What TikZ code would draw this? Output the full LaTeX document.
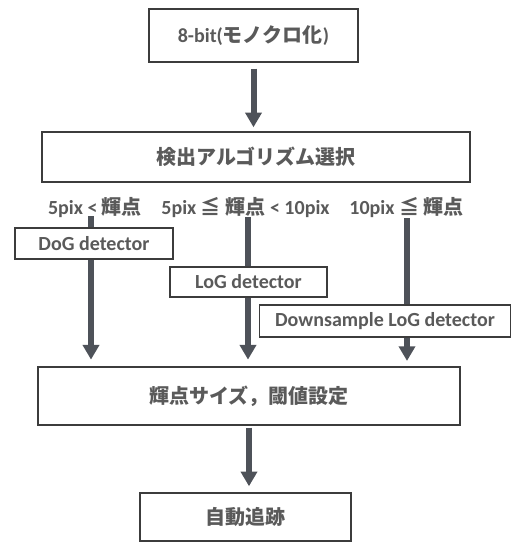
\documentclass[tikz,border=0pt]{standalone}
\usepackage{fontspec}
\setmainfont{Carlito}
\newfontfamily\jp{Noto Sans CJK JP Bold}
\usetikzlibrary{arrows.meta}
\definecolor{txt}{HTML}{5A5A5A}
\definecolor{edge}{HTML}{3C3C3C}
\definecolor{arr}{HTML}{4E5259}
\newcommand{\jt}[1]{{\jp #1}}
\tikzset{
  box/.style={draw=edge, line width=1.1pt, fill=white, inner sep=0pt, text=txt, font=\bfseries\fontsize{15}{18}\selectfont},
  lbl/.style={inner sep=0pt, text=txt, font=\bfseries\fontsize{15}{18}\selectfont},
  flow/.style={draw=arr, line width=4.5pt, -{Triangle[width=12pt,length=11pt]}},
  seg/.style={draw=arr, line width=4.5pt}
}
\begin{document}
\begin{tikzpicture}[x=0.75pt,y=-0.75pt]
\useasboundingbox (0,0) rectangle (512,543);
% boxes
\node[box, minimum width=209*0.75pt, minimum height=53*0.75pt] (top) at (253.5,35.5) {8-bit(\jt{モノクロ化})};
\node[box, minimum width=428*0.75pt, minimum height=50*0.75pt] (sel) at (256,157) {\jt{検出アルゴリズム選択}};
\node[box, minimum width=158*0.75pt, minimum height=31*0.75pt] (dog) at (94,243.5) {DoG detector};
\node[box, minimum width=157*0.75pt, minimum height=30*0.75pt] (log) at (248.5,282) {LoG detector};
\node[box, minimum width=251*0.75pt, minimum height=32*0.75pt] (dlog) at (385,321) {Downsample LoG detector};
\node[box, minimum width=422*0.75pt, minimum height=58*0.75pt] (set) at (249,396) {\jt{輝点サイズ，閾値設定}};
\node[box, minimum width=211*0.75pt, minimum height=48*0.75pt] (trk) at (245.5,517) {\jt{自動追跡}};
% labels
\node[lbl] (l1) at (95,208) {5pix < \jt{輝点}};
\node[lbl] (l2) at (245.5,208) {5pix \jt{≦ 輝点} < 10pix};
\node[lbl] (l3) at (406.5,208) {10pix \jt{≦ 輝点}};
% column tops
\coordinate (c1t) at (91,216);
\coordinate (c2t) at (248,217);
\coordinate (c3t) at (407,218);
% arrows
\draw[flow, shorten <=4.5pt, shorten >=3pt] (top.south) -- (top.south |- sel.north);
\draw[seg] (c1t) -- (c1t |- dog.north);
\draw[flow, shorten >=5pt] (c1t |- dog.south) -- (c1t |- set.north);
\draw[seg] (c2t) -- (c2t |- log.north);
\draw[flow, shorten >=5pt] (c2t |- log.south) -- (c2t |- set.north);
\draw[seg] (c3t) -- (c3t |- dlog.north);
\draw[flow, shorten >=4pt] (c3t |- dlog.south) -- (c3t |- set.north);
\draw[flow, shorten <=1.5pt, shorten >=4.5pt] (set.south) -- (set.south |- trk.north);
\end{tikzpicture}
\end{document}
